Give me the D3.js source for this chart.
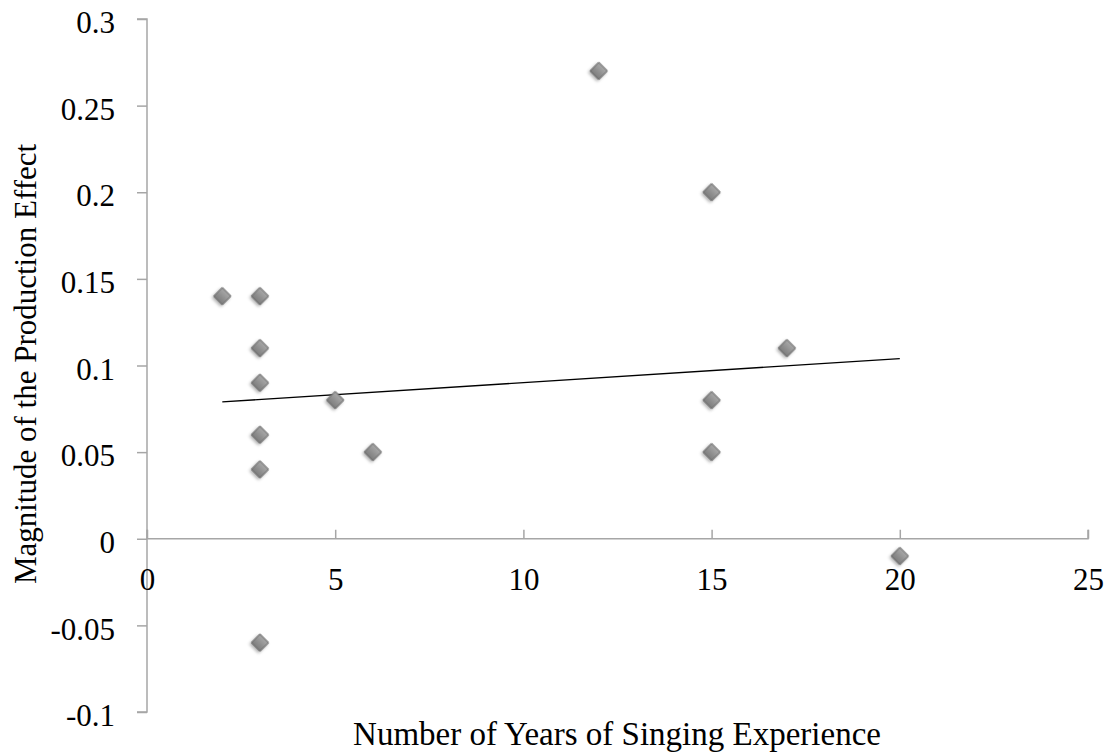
<!DOCTYPE html>
<html>
<head>
<meta charset="utf-8">
<script src="https://cdn.jsdelivr.net/npm/d3@7"></script>
<style>
  body { margin: 0; background: #fff; }
  text { font-family: "Liberation Serif", "Times New Roman", serif; fill: #000; }
</style>
</head>
<body>
<div id="app"></div>
<script>
let width = 1112;
let height = 754;

// years of singing experience / magnitude of production effect
let years = [2, 3, 3, 3, 3, 3, 3, 5, 6, 12, 15, 15, 15, 17, 20];
let effect = [0.14, 0.14, 0.11, 0.09, 0.06, 0.04, -0.06, 0.08, 0.05, 0.27, 0.2, 0.08, 0.05, 0.11, -0.01];
// linear trendline endpoints as drawn
let trendX = [2, 20];
let trendY = [0.079, 0.104];

let xTicks = [0, 5, 10, 15, 20, 25];
let yTicks = [-0.1, -0.05, 0, 0.05, 0.1, 0.15, 0.2, 0.25, 0.3];

let x = d3.scaleLinear().domain([0, 25]).range([147, 1088]);
let y = d3.scaleLinear().domain([-0.1, 0.3]).range([712, 19]);

let svg = d3.select("#app")
  .append("svg")
  .attr("width", width)
  .attr("height", height);

let defs = svg.append("defs");
let grad = defs.append("linearGradient")
  .attr("id", "mk")
  .attr("x1", 0).attr("y1", 0).attr("x2", 0).attr("y2", 1);
grad.append("stop").attr("offset", "0%").attr("stop-color", "#a8a8a8");
grad.append("stop").attr("offset", "100%").attr("stop-color", "#7c7c7c");
let shadow = defs.append("filter").attr("id", "sh")
  .attr("x", "-50%").attr("y", "-50%").attr("width", "200%").attr("height", "200%");
shadow.append("feDropShadow")
  .attr("dx", 0).attr("dy", 2).attr("stdDeviation", 1.5)
  .attr("flood-color", "#000").attr("flood-opacity", 0.3);

const axisColor = "#a6a6a6";
// plain hyphen for negatives, like the original
const fmt = d => String(+d.toFixed(2));

// y axis (ticks outside)
let yAxis = svg.append("g")
  .attr("transform", `translate(${x(0)},0)`)
  .call(d3.axisLeft(y).tickValues(yTicks).tickSize(10).tickPadding(22).tickFormat(fmt));
yAxis.select(".domain").attr("stroke", axisColor).attr("stroke-width", 1.5)
  .attr("d", `M-10,${y(0.3)}H0V${y(-0.1)}H-10`);
yAxis.selectAll(".tick line").attr("stroke", axisColor).attr("stroke-width", 1.5);
yAxis.selectAll(".tick text")
  .attr("font-size", 31)
  .attr("dy", "0.44em")
  .style("font-family", "Liberation Serif");

// x axis at y = 0, ticks pointing up
let xAxis = svg.append("g")
  .attr("transform", `translate(0,${y(0)})`)
  .call(d3.axisBottom(x).tickValues(xTicks).tickSize(-9).tickPadding(0).tickFormat(fmt));
xAxis.select(".domain").attr("stroke", axisColor).attr("stroke-width", 1.5)
  .attr("d", `M${x(0)},-9V0H${x(25)}V-9`);
xAxis.selectAll(".tick line").attr("stroke", axisColor).attr("stroke-width", 1.5);
xAxis.selectAll(".tick text")
  .attr("font-size", 31)
  .attr("y", 51)
  .attr("dy", 0)
  .style("font-family", "Liberation Serif");

// trendline
svg.append("line")
  .attr("x1", x(trendX[0])).attr("y1", y(trendY[0]))
  .attr("x2", x(trendX[1])).attr("y2", y(trendY[1]))
  .attr("stroke", "#000")
  .attr("stroke-width", 1.3);

// diamond markers
let points = years.map((d, i) => ({ x: d, y: effect[i] }));
let diamond = d3.symbol().type(d3.symbolSquare).size(150);
svg.append("g")
  .selectAll("path")
  .data(points)
  .join("path")
  .attr("d", diamond)
  .attr("transform", d => `translate(${x(d.x)},${y(d.y)}) rotate(45)`)
  .attr("fill", "url(#mk)")
  .attr("stroke", "#6a6a6a")
  .attr("stroke-width", 1)
  .attr("filter", "url(#sh)");

// axis titles
svg.append("text")
  .attr("x", 617)
  .attr("y", 745)
  .attr("text-anchor", "middle")
  .attr("font-size", 33)
  .text("Number of Years of Singing Experience");

svg.append("text")
  .attr("transform", `translate(36,364) rotate(-90)`)
  .attr("text-anchor", "middle")
  .attr("font-size", 31)
  .text("Magnitude of the Production Effect");
</script>
</body>
</html>
